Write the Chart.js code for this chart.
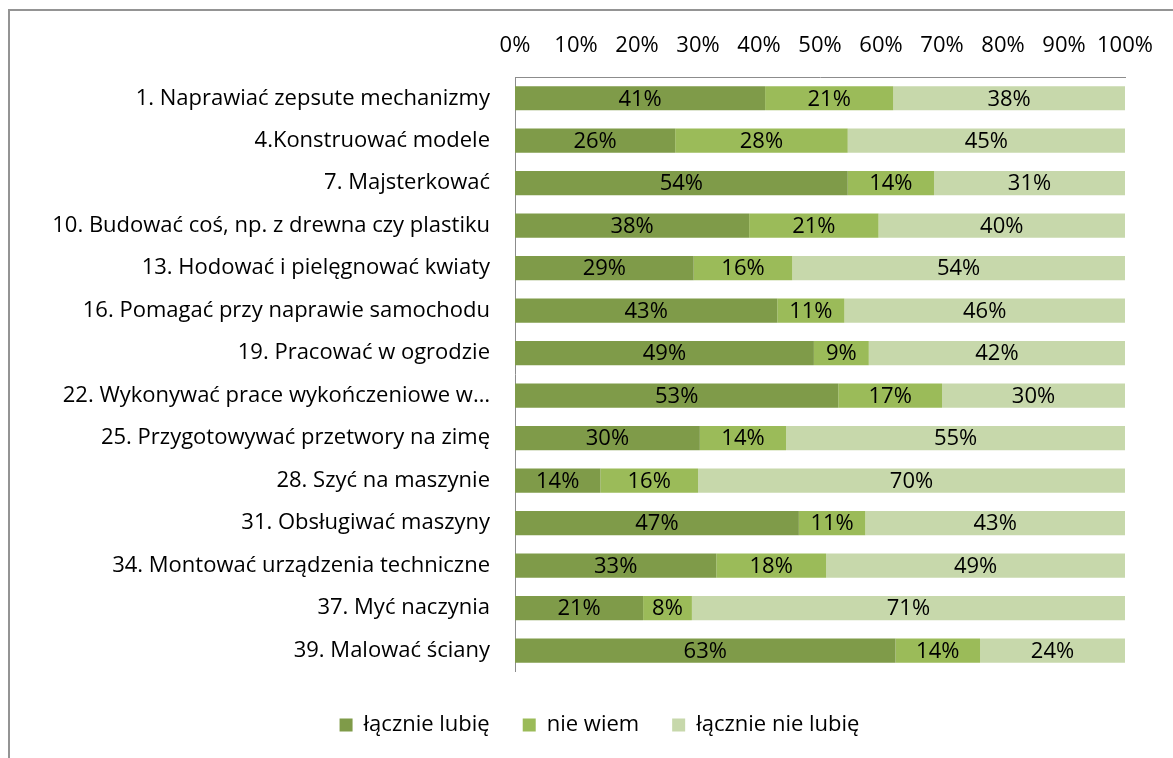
<!DOCTYPE html>
<html>
<head>
<meta charset="utf-8">
<script src="https://cdn.jsdelivr.net/npm/chart.js@4"></script>
<style>
  html, body { margin: 0; padding: 0; background: #fff; overflow: hidden; }
  #frame { position: absolute; left: 8px; top: 9px; width: 1250px; height: 800px; border: 2px solid #949494; }
  #wrap { position: absolute; left: 0; top: 0; width: 1173px; height: 758px; }
</style>
</head>
<body>
<div id="frame"></div>
<div id="wrap"><canvas id="chart"></canvas></div>
<script>
const categories = [
  "1. Naprawiać zepsute mechanizmy",
  "4.Konstruować modele",
  "7. Majsterkować",
  "10. Budować coś, np. z drewna czy plastiku",
  "13. Hodować i pielęgnować kwiaty",
  "16. Pomagać przy naprawie samochodu",
  "19. Pracować w ogrodzie",
  "22. Wykonywać prace wykończeniowe w…",
  "25. Przygotowywać przetwory na zimę",
  "28. Szyć na maszynie",
  "31. Obsługiwać maszyny",
  "34. Montować urządzenia techniczne",
  "37. Myć naczynia",
  "39. Malować ściany"
];
const lubie    = [41, 26, 54, 38, 29, 43, 49, 53, 30, 14, 47, 33, 21, 63];
const nieWiem  = [21, 28, 14, 21, 16, 11,  9, 17, 14, 16, 11, 18,  8, 14];
const nieLubie = [38, 45, 31, 40, 54, 46, 42, 30, 55, 70, 43, 49, 71, 24];
const seriesNames = ["łącznie lubię", "nie wiem", "łącznie nie lubię"];
const xTicks = [0, 10, 20, 30, 40, 50, 60, 70, 80, 90, 100];

const FONT = "'Open Sans', Lato, sans-serif";
const FSIZE = 22;
const colors = ["#7f9b49", "#9bbb59", "#c7d8ab"];

// 100% stacked: share of each row total
const totals = lubie.map((v, i) => v + nieWiem[i] + nieLubie[i]);
const share = arr => arr.map((v, i) => v / totals[i] * 100);

const raw = [lubie, nieWiem, nieLubie];

const barLabels = {
  id: 'barLabels',
  afterDatasetsDraw(chart) {
    const ctx = chart.ctx;
    ctx.save();
    ctx.font = FSIZE + "px " + FONT;
    ctx.fillStyle = "#000";
    ctx.textAlign = "center";
    ctx.textBaseline = "middle";
    chart.data.datasets.forEach((ds, di) => {
      chart.getDatasetMeta(di).data.forEach((bar, i) => {
        const cx = (bar.x + bar.base) / 2;
        ctx.fillText(raw[di][i] + "%", cx, bar.y + 1);
      });
    });
    ctx.restore();
  }
};

// legend in the original is centred on the whole chart box, not the plot
const legendShift = {
  id: 'legendShift',
  afterLayout(chart) {
    chart.legend.left += 37;
    chart.legend.right += 37;
  }
};

new Chart(document.getElementById("chart"), {
  type: 'bar',
  data: {
    labels: categories,
    datasets: raw.map((arr, k) => ({
      label: seriesNames[k],
      data: share(arr),
      backgroundColor: colors[k],
      borderWidth: 0,
      categoryPercentage: 1,
      barPercentage: 0.57
    }))
  },
  options: {
    indexAxis: 'y',
    responsive: true,
    maintainAspectRatio: false,
    animation: false,
    layout: { padding: { left: 0, right: 48, top: 20, bottom: 12 } },
    plugins: {
      tooltip: { enabled: false },
      legend: {
        position: 'bottom',
        title: { display: true, text: ' ', font: { size: 1 }, padding: { top: 8, bottom: 0 } },
        labels: {
          boxWidth: 13,
          boxHeight: 13,
          padding: 33,
          color: "#000",
          font: { family: FONT, size: FSIZE }
        }
      }
    },
    scales: {
      x: {
        position: 'top',
        stacked: true,
        min: 0,
        max: 100,
        afterBuildTicks: s => { s.ticks = xTicks.map(v => ({ value: v })); },
        afterFit: s => { s.height = 57; },
        ticks: {
          color: "#000",
          padding: 18,
          font: { family: FONT, size: FSIZE },
          maxRotation: 0,
          autoSkip: false,
          callback: v => v + "%"
        },
        grid: { display: false, drawTicks: false },
        border: { display: true, color: "#8c8c8c", width: 1 }
      },
      y: {
        stacked: true,
        afterFit: s => { s.width = 515; },
        ticks: {
          color: "#000",
          padding: 25,
          font: { family: FONT, size: FSIZE },
          autoSkip: false
        },
        grid: { display: false, drawTicks: false },
        border: { display: true, color: "#8c8c8c", width: 1 }
      }
    }
  },
  plugins: [barLabels, legendShift]
});
</script>
</body>
</html>
